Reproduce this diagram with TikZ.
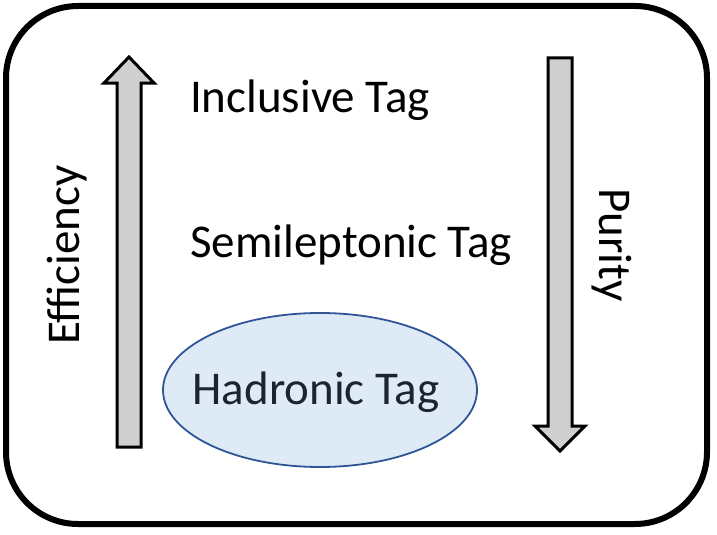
\documentclass[tikz,border=0pt]{standalone}
\usepackage{fontspec}
\setmainfont{Carlito}
\usetikzlibrary{shapes.geometric}
\definecolor{arrowgray}{HTML}{D0CECE}
\definecolor{ellfill}{HTML}{DEEBF7}
\definecolor{elldraw}{HTML}{2F5597}
\definecolor{tagtext}{HTML}{1A2433}
\begin{document}
\begin{tikzpicture}[x=1pt,y=-1pt,
  label/.style={font=\fontsize{47}{56}\selectfont, inner sep=0pt},
  bigarrow/.style={draw=black, line width=3pt, fill=arrowgray, line join=miter}]
\useasboundingbox (0,0) rectangle (717,535);
% frame
\draw[line width=6pt, rounded corners=72pt] (6,6) rectangle (707,524);
% efficiency arrow (up)
\draw[bigarrow] (117,447) -- (117,83) -- (104,83) -- (129,57) -- (154,83) -- (141,83) -- (141,447) -- cycle;
% purity arrow (down)
\draw[bigarrow] (548,58) -- (572,58) -- (572,426) -- (585,426) -- (560,451) -- (535,426) -- (548,426) -- cycle;
% tags
\node[label] (incl) at (310,100) {Inclusive Tag};
\node[label] (semi) at (351,245) {Semileptonic Tag};
\node[draw=elldraw, line width=1.8pt, fill=ellfill, ellipse, minimum width=314pt, minimum height=154pt] (hadell) at (320,390) {};
\node[label, text=tagtext] (had) at (316,392) {Hadronic Tag};
% axis labels
\node[label, rotate=90] (eff) at (67,255) {Efficiency};
\node[label, rotate=-90] (pur) at (612,245) {Purity};
\end{tikzpicture}
\end{document}
